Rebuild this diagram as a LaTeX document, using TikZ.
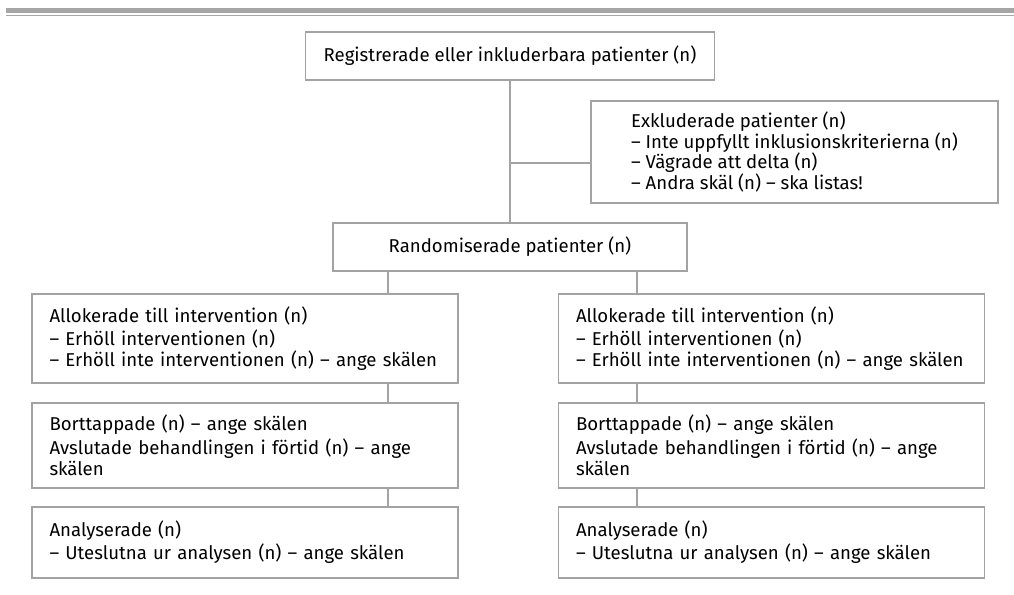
\documentclass[tikz,border=0pt]{standalone}
\usepackage{fontspec}
\setmainfont{Fira Sans}
\usepackage{tikz}

\definecolor{rulegray}{HTML}{A6A6A6}
\definecolor{boxgray}{HTML}{A3A3A3}

\tikzset{
	box/.style={draw=boxgray, line width=1.6pt, fill=white, inner xsep=18pt, inner ysep=0pt,
		align=left, font=\fontsize{18.6}{20.8}\selectfont},
	link/.style={draw=boxgray, line width=1.6pt},
}

\begin{document}
\begin{tikzpicture}[x=1pt,y=-1pt]

			\useasboundingbox (0,0) rectangle (1014,594);

			% double rule along the top
			\fill [rulegray] (6,8) rectangle (1014,12.7);
			\fill [rulegray] (6,14.7) rectangle (1014,16.3);

			\node [box, minimum width=409pt, minimum height=48pt] (reg) at (510,56)
				{Registrerade eller inkluderbara patienter (n)};
			\node [box, inner xsep=0pt, minimum width=407pt, minimum height=102pt] (excl) at (794.5,152)
				{Exkluderade patienter (n)\\ – Inte uppfyllt inklusionskriterierna (n)\\ – Vägrade att delta (n)\\ – Andra skäl (n) – ska listas!};
			\node [box, minimum width=354pt, minimum height=48pt] (rand) at (510,247)
				{Randomiserade patienter (n)};

			\coordinate (branch) at (510,163);
			\draw [link] (reg.south) -- (rand.north);
			\draw [link] (branch) -- (branch -| excl.west);

			\foreach \c/\x/\s in {a/245/388, b/771.5/637} {
				\node [box, text width=391pt, inner xsep=17.5pt, minimum height=89pt] (alloc-\c) at (\x,338.5)
					{Allokerade till intervention (n)\\[2pt] – Erhöll interventionen (n)\\ – Erhöll inte interventionen (n) – ange skälen};
				\node [box, text width=391pt, inner xsep=17.5pt, minimum height=85pt] (lost-\c) at (\x,445.2)
					{Borttappade (n) – ange skälen\\[3pt] Avslutade behandlingen i förtid (n) – ange\\ skälen};
				\node [box, text width=391pt, inner xsep=17.5pt, minimum height=71pt] (anal-\c) at (\x,542.2)
					{Analyserade (n)\\[2pt] – Uteslutna ur analysen (n) – ange skälen};

				\coordinate (stem-\c) at (\s,0);
				\draw [link] (rand.south -| stem-\c) -- (alloc-\c.north -| stem-\c);
				\draw [link] (alloc-\c.south -| stem-\c) -- (lost-\c.north -| stem-\c);
				\draw [link] (lost-\c.south -| stem-\c) -- (anal-\c.north -| stem-\c);
			}
		\end{tikzpicture}
\end{document}
